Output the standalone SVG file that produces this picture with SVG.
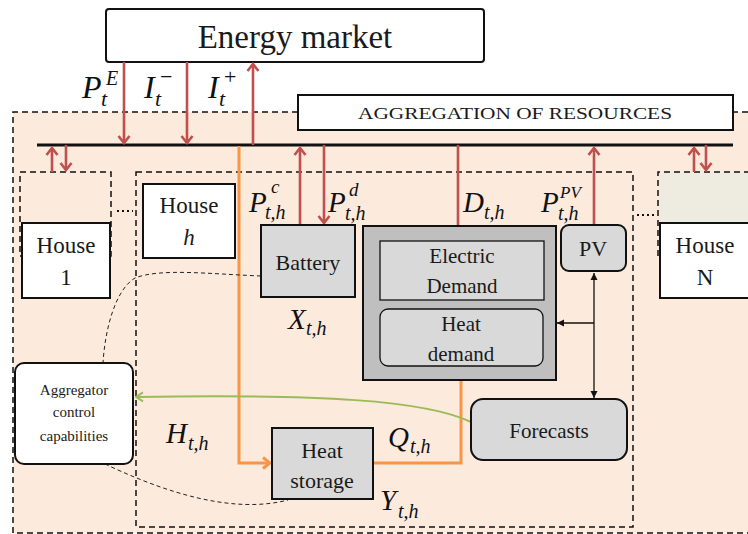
<svg xmlns="http://www.w3.org/2000/svg" width="748" height="534" viewBox="0 0 748 534" font-family="Liberation Serif, DejaVu Serif, serif">
<defs>
<style>
.t{fill:#1a1a1a;text-anchor:middle}
.m{font-style:italic;fill:#111}
.red{stroke:#C0504D;stroke-width:2.6;fill:none}
.org{stroke:#F79646;stroke-width:3;fill:none}
.blk{stroke:#111;stroke-width:1.3;fill:none}
.box{stroke:#111;stroke-width:2;fill:#D9D9D9}
.wbox{stroke:#111;stroke-width:2;fill:#fff}
.dash{stroke:#111;stroke-width:1.5;stroke-dasharray:6,4;fill:none}
.thin{stroke:#222;stroke-width:1;stroke-dasharray:4,3;fill:none}
</style>
<marker id="ar" viewBox="-10 -7 12 14" refX="0" refY="0" markerWidth="12" markerHeight="14" markerUnits="userSpaceOnUse" orient="auto"><path d="M-7,-5.5 L0,0 L-7,5.5" stroke="#C0504D" stroke-width="2.6" fill="none"/></marker>
<marker id="ao" viewBox="-10 -7 12 14" refX="0" refY="0" markerWidth="12" markerHeight="14" markerUnits="userSpaceOnUse" orient="auto"><path d="M-7,-5.5 L0,0 L-7,5.5" stroke="#F79646" stroke-width="3" fill="none"/></marker>
<marker id="ab" viewBox="-8 -4 9 8" refX="0" refY="0" markerWidth="9" markerHeight="8" markerUnits="userSpaceOnUse" orient="auto"><path d="M-7,-3.5 L0,0 L-7,3.5 Z" fill="#111"/></marker>
<marker id="ag" viewBox="-10 -6 11 12" refX="0" refY="0" markerWidth="11" markerHeight="12" markerUnits="userSpaceOnUse" orient="auto"><path d="M-7,-4.5 L0,0 L-7,4.5" stroke="#9BBB59" stroke-width="2" fill="none"/></marker>
</defs>
<rect width="748" height="534" fill="#fff"/>

<g id="aggregation-region">
<rect x="13" y="112" width="745" height="421" fill="#FCEADC"/>
<path class="dash" d="M748,112 H13 V533 H748"/>
</g>

<g id="house1-region"><rect x="20" y="172" width="91" height="84" fill="#EEEBE1" class="dash"/></g>
<g id="houseN-region"><rect x="659" y="173" width="90" height="82" fill="#EEEBE1"/><path d="M658,256 V172 H760" class="dash"/></g>
<g id="househ-region"><rect x="136" y="172" width="497" height="355" fill="#EEEBE1" class="dash"/></g>

<g id="dots">
<path d="M117,211 H133" stroke="#111" stroke-width="2" stroke-dasharray="2,3"/>
<path d="M637,215 H655" stroke="#111" stroke-width="2" stroke-dasharray="2,3"/>
</g>

<g id="energy-market"><rect x="106" y="9" width="378" height="53" rx="3" class="wbox"/><text class="t" x="295" y="48" font-size="33">Energy market</text></g>
<g id="aggregation-box"><rect x="298" y="95" width="435" height="35" class="wbox" stroke-width="1.5"/><text class="t" x="515" y="119" font-size="17" textLength="314" lengthAdjust="spacingAndGlyphs">AGGREGATION OF RESOURCES</text></g>

<g id="connectors">
<path d="M37,145 H733" stroke="#111" stroke-width="3"/>
<path class="red" d="M124,62 V143" marker-end="url(#ar)"/>
<path class="red" d="M187,62 V143" marker-end="url(#ar)"/>
<path class="red" d="M253,145 V64" marker-end="url(#ar)"/>
<path class="red" d="M52,172 V148" marker-end="url(#ar)"/>
<path class="red" d="M66,145 V170" marker-end="url(#ar)"/>
<path class="red" d="M694,172 V148" marker-end="url(#ar)"/>
<path class="red" d="M706,145 V170" marker-end="url(#ar)"/>
<path class="red" d="M300,225 V148" marker-end="url(#ar)"/>
<path class="red" d="M324,145 V223" marker-end="url(#ar)"/>
<path class="red" d="M458,145 V240" marker-end="url(#ar)"/>
<path class="red" d="M594,225 V148" marker-end="url(#ar)"/>
<path class="org" d="M239,146 V463 H270" marker-end="url(#ao)"/>
<path class="org" d="M373,463 H461 V368" marker-end="url(#ao)"/>
<path class="blk" d="M594,323 V273" marker-end="url(#ab)"/>
<path class="blk" d="M594,323 V398" marker-end="url(#ab)"/>
<path class="blk" d="M594,323 H557" marker-end="url(#ab)"/>
<path d="M471,422 C425,400 320,394 136,397" stroke="#9BBB59" stroke-width="2" fill="none" marker-end="url(#ag)"/>
<path class="thin" d="M261,276 C210,274 160,268 135,278 C115,290 105,330 103,363"/>
<path class="thin" d="M105,464 C160,490 230,515 288,500"/>
</g>

<g id="house1"><rect x="22" y="223" width="88" height="75" class="wbox"/><text class="t" x="66" y="253" font-size="23">House</text><text class="t" x="66" y="285" font-size="23">1</text></g>
<g id="househ"><rect x="143" y="184" width="92" height="74" class="wbox"/><text class="t" x="189" y="213" font-size="23">House</text><text class="t" x="189" y="245" font-size="23" font-style="italic">h</text></g>
<g id="houseN"><rect x="660" y="223" width="100" height="75" class="wbox"/><text class="t" x="705" y="253" font-size="23">House</text><text class="t" x="705" y="285" font-size="23">N</text></g>

<g id="battery"><rect x="261" y="225" width="94" height="72" class="box"/><text class="t" x="308" y="270" font-size="22">Battery</text></g>
<g id="demand"><rect x="363" y="226" width="193" height="154" stroke="#111" stroke-width="2" fill="#BFBFBF"/></g>
<g id="electric-demand"><rect x="380" y="241" width="164" height="59" fill="#D9D9D9" stroke="#111" stroke-width="1.3"/><text class="t" x="462" y="263" font-size="21">Electric</text><text class="t" x="462" y="293" font-size="21">Demand</text></g>
<g id="heat-demand"><rect x="380" y="309" width="163" height="57" rx="8" fill="#D9D9D9" stroke="#111" stroke-width="1.3"/><text class="t" x="461" y="331" font-size="21">Heat</text><text class="t" x="461" y="361" font-size="21">demand</text></g>
<g id="pv"><rect x="561" y="225" width="65" height="46" rx="8" class="box"/><text class="t" x="593" y="256" font-size="22">PV</text></g>
<g id="forecasts"><rect x="471" y="399" width="156" height="61" rx="12" class="box"/><text class="t" x="549" y="438" font-size="21">Forecasts</text></g>
<g id="heat-storage"><rect x="272" y="428" width="101" height="71" class="box"/><text class="t" x="322" y="458" font-size="22">Heat</text><text class="t" x="322" y="488" font-size="22">storage</text></g>
<g id="aggregator"><rect x="15" y="363" width="118" height="101" rx="9" class="wbox"/><text class="t" x="74" y="395" font-size="15">Aggregator</text><text class="t" x="74" y="417" font-size="15">control</text><text class="t" x="74" y="441" font-size="15">capabilities</text></g>

<g id="labels">
<text class="m" x="82" y="98" font-size="32">P</text><text class="m" x="106" y="85" font-size="20">E</text><text class="m" x="101" y="106" font-size="22">t</text>
<text class="m" x="144" y="98" font-size="32">I</text><text class="m" x="155" y="106" font-size="22">t</text><text x="160" y="84" font-size="22" fill="#111">−</text>
<text class="m" x="208" y="98" font-size="32">I</text><text class="m" x="219" y="106" font-size="22">t</text><text x="224" y="84" font-size="22" fill="#111">+</text>
<text class="m" x="249" y="212" font-size="29">P</text><text class="m" x="271" y="193" font-size="19">c</text><text class="m" x="265" y="219" font-size="20">t,h</text>
<text class="m" x="328" y="212" font-size="29">P</text><text class="m" x="349" y="196" font-size="19">d</text><text class="m" x="345" y="220" font-size="20">t,h</text>
<text class="m" x="463" y="212" font-size="29">D</text><text class="m" x="484" y="219" font-size="20">t,h</text>
<text class="m" x="541" y="212" font-size="29">P</text><text class="m" x="560" y="198" font-size="17">PV</text><text class="m" x="558" y="220" font-size="20">t,h</text>
<text class="m" x="288" y="329" font-size="29">X</text><text class="m" x="306" y="335" font-size="20">t,h</text>
<text class="m" x="166" y="443" font-size="29">H</text><text class="m" x="188" y="450" font-size="20">t,h</text>
<text class="m" x="388" y="447" font-size="29">Q</text><text class="m" x="410" y="453" font-size="20">t,h</text>
<text class="m" x="380" y="510" font-size="29">Y</text><text class="m" x="398" y="518" font-size="20">t,h</text>
</g>
</svg>
